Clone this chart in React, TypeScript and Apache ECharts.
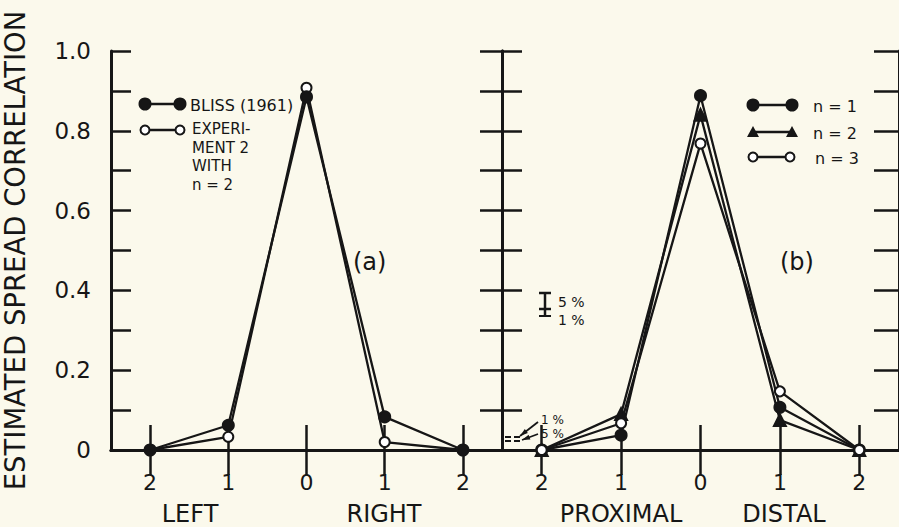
import React, { useEffect, useRef } from "react";
import * as echarts from "echarts";

const categories = ["c2a", "c1a", "c0", "c1b", "c2b"];
const xTickLabels = ["2", "1", "0", "1", "2"];
const leftNames = ["LEFT", "RIGHT"];
const rightNames = ["PROXIMAL", "DISTAL"];

const bliss1961 = [0, 0.062, 0.885, 0.083, 0];
const experiment2 = [0, 0.033, 0.908, 0.02, 0];

const n1 = [0, 0.037, 0.888, 0.107, 0];
const n2 = [0, 0.09, 0.84, 0.075, 0];
const n3 = [0, 0.067, 0.768, 0.147, 0];

const legendExperimentLines = ["EXPERI-", "MENT 2", "WITH", "n = 2"];

const INK = "#161616";
const BG = "#FBF9EC";
const FONT = "DejaVu Sans";

export default function App() {
  const ref = useRef<HTMLDivElement>(null);

  useEffect(() => {
    document.body.style.margin = "0";
    document.body.style.background = BG;
    const chart = echarts.init(ref.current!, null, { renderer: "svg" });

    const yFmt = (v: number) => {
      const k = Math.round(v * 10);
      if (k % 2) return "";
      return k === 0 ? "0" : (k / 10).toFixed(1);
    };

    const mkX = (grid: number, pos: "top" | "bottom") => ({
      type: "category",
      gridIndex: grid,
      position: pos,
      data: categories,
      boundaryGap: true,
      axisLine: { show: true, lineStyle: { color: INK, width: 3 } },
      axisTick: {
        show: true,
        inside: true,
        alignWithLabel: true,
        length: 25,
        lineStyle: { color: INK, width: 2.5 },
      },
      axisLabel: {
        show: pos === "bottom",
        margin: 21,
        color: INK,
        fontFamily: FONT,
        fontSize: 22,
        formatter: (_v: string, i: number) => xTickLabels[i],
      },
      splitLine: { show: false },
    });

    const mkY = (grid: number, pos: "left" | "right", labels: boolean, len: number) => ({
      type: "value",
      gridIndex: grid,
      position: pos,
      min: 0,
      max: 1,
      interval: 0.1,
      axisLine: { show: true, lineStyle: { color: INK, width: 3 } },
      axisTick: { show: true, inside: true, length: len, lineStyle: { color: INK, width: 2.5 } },
      axisLabel: {
        show: labels,
        margin: 20,
        color: INK,
        fontFamily: FONT,
        fontSize: 23,
        formatter: yFmt,
      },
      splitLine: { show: false },
      name: labels ? "ESTIMATED SPREAD CORRELATION" : "",
      nameLocation: "middle",
      nameGap: 82,
      nameRotate: 90,
      nameTextStyle: { color: INK, fontFamily: FONT, fontSize: 27.5 },
    });

    const lineSeries = (
      data: number[],
      xi: number,
      yi: number,
      symbol: string,
      size: number,
      name: string,
      z: number
    ) => ({
      type: "line",
      name,
      data,
      xAxisIndex: xi,
      yAxisIndex: yi,
      symbol,
      symbolSize: size,
      showAllSymbol: true,
      lineStyle: { color: INK, width: 2.3 },
      itemStyle: { color: INK, borderColor: INK, borderWidth: 2 },
      z,
    });

    const txt = (x: number, y: number, text: string, size: number, align = "left") => ({
      type: "text",
      x,
      y,
      style: {
        text,
        fill: INK,
        font: `${size}px "${FONT}"`,
        textAlign: align,
        textVerticalAlign: "middle",
      },
      z: 100,
    });
    const seg = (x1: number, y1: number, x2: number, y2: number, w = 2.5) => ({
      type: "line",
      shape: { x1, y1, x2, y2 },
      style: { stroke: INK, lineWidth: w },
      z: 100,
    });
    const dot = (cx: number, cy: number, open = false) => ({
      type: "circle",
      shape: { cx, cy, r: open ? 4.5 : 5.5 },
      style: { fill: open ? "#fff" : INK, stroke: INK, lineWidth: 2 },
      z: 101,
    });
    const tri = (cx: number, cy: number) => ({
      type: "polygon",
      shape: { points: [[cx, cy - 6], [cx + 6, cy + 5], [cx - 6, cy + 5]] },
      style: { fill: INK },
      z: 101,
    });
    const head = (x: number, y: number, fx: number, fy: number) => {
      const dx = x - fx, dy = y - fy;
      const L = Math.hypot(dx, dy);
      const ux = dx / L, uy = dy / L;
      const bx = x - ux * 8, by = y - uy * 8;
      return {
        type: "polygon",
        shape: { points: [[x, y], [bx - uy * 2.5, by + ux * 2.5], [bx + uy * 2.5, by - ux * 2.5]] },
        style: { fill: INK },
        z: 100,
      };
    };

    const graphics: any[] = [
      // left legend
      seg(145, 104, 180, 104), dot(145, 104), dot(180, 104),
      txt(190, 105, "BLISS (1961)", 16),
      seg(145, 130, 180, 130), dot(145, 130, true), dot(180, 130, true),
      ...legendExperimentLines.map((s, i) => txt(192, 129 + i * 18.5, s, 15)),
      // right legend
      seg(753, 105, 792, 105), dot(753, 105), dot(792, 105),
      txt(813, 106, "n = 1", 16),
      seg(753, 132, 792, 132), tri(753, 132), tri(792, 132),
      txt(813, 133, "n = 2", 16),
      seg(753, 157, 790, 157), dot(753, 157, true), dot(790, 157, true),
      txt(815, 158, "n = 3", 16),
      // panel labels
      txt(353, 262, "(a)", 24),
      txt(780, 262, "(b)", 24),
      // significance bar
      seg(545, 293, 545, 317, 2.5),
      seg(539, 293, 551, 293, 2.5),
      seg(539, 309, 551, 309, 2.5),
      seg(539, 316, 551, 316, 2),
      txt(558, 302, "5 %", 14),
      txt(558, 320, "1 %", 14),
      // lower-left dashes and arrows
      seg(505, 437, 511, 437, 2), seg(514, 437, 520, 437, 2),
      seg(505, 441, 511, 441, 2), seg(514, 441, 520, 441, 2),
      seg(538, 422, 520, 436, 1.8), head(520, 436, 538, 422),
      seg(538, 434, 522, 440, 1.8), head(522, 440, 538, 434),
      txt(541, 420, "1 %", 12),
      txt(541, 434, "5 %", 12),
      // axis names
      txt(190, 514, leftNames[0], 24, "center"),
      txt(384, 514, leftNames[1], 24, "center"),
      txt(621, 514, rightNames[0], 24, "center"),
      txt(784, 514, rightNames[1], 24, "center"),
    ];

    chart.setOption({
      animation: false,
      backgroundColor: BG,
      grid: [
        { left: 100, top: 51, width: 402, height: 399 },
        { left: 502, top: 51, width: 400, height: 399 },
      ],
      xAxis: [mkX(0, "bottom"), mkX(0, "top"), mkX(1, "bottom"), mkX(1, "top")],
      yAxis: [mkY(0, "left", true, 20), mkY(0, "right", false, 22), mkY(1, "left", false, 20), mkY(1, "right", false, 25)],
      series: [
        lineSeries(experiment2, 0, 0, "emptyCircle", 10, "EXPERIMENT 2 WITH n = 2", 3),
        lineSeries(bliss1961, 0, 0, "circle", 11, "BLISS (1961)", 4),
        lineSeries(n1, 2, 2, "circle", 11, "n = 1", 4),
        lineSeries(n2, 2, 2, "triangle", 12, "n = 2", 4),
        lineSeries(n3, 2, 2, "emptyCircle", 10, "n = 3", 5),
      ],
      graphic: graphics,
    });

    return () => chart.dispose();
  }, []);

  return <div ref={ref} style={{ width: 899, height: 527 }} />;
}
